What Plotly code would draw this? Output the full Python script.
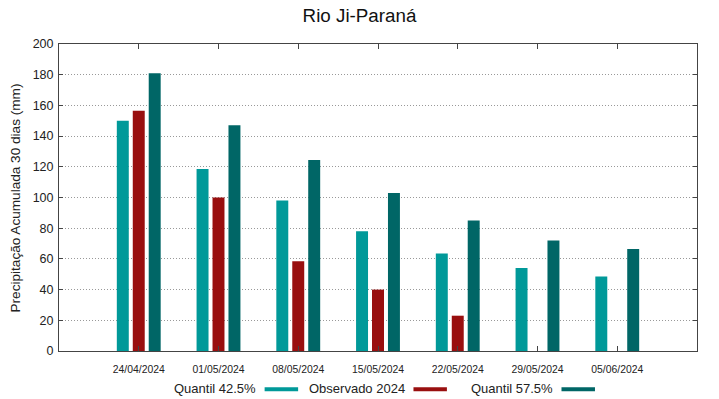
import plotly.graph_objects as go

categories = ["24/04/2024", "01/05/2024", "08/05/2024", "15/05/2024",
              "22/05/2024", "29/05/2024", "05/06/2024"]
quantil_425 = [150, 118.5, 98, 78, 63.5, 54, 48.5]
observado_2024 = [156.5, 100, 58.5, 40, 23, None, None]
quantil_575 = [181, 147, 124.5, 103, 85, 72, 66.5]
y_ticks = [0, 20, 40, 60, 80, 100, 120, 140, 160, 180, 200]

names = ["Quantil 42.5%", "Observado 2024", "Quantil 57.5%"]
colors = ["#009999", "#990f0f", "#006666"]
series = [quantil_425, observado_2024, quantil_575]

FONT = "Liberation Sans, Arial, sans-serif"
x_idx = list(range(len(categories)))

fig = go.Figure()
for n, c, s in zip(names, colors, series):
    fig.add_trace(go.Bar(x=x_idx, y=s, name=n, marker_color=c,
                         marker_line_width=0, showlegend=False))

# manual legend (text followed by swatch)
leg_sw = [(0.3223, 0.3748), (0.5556, 0.6080), (0.7876, 0.8401)]
for n, c, (a, b) in zip(names, colors, leg_sw):
    fig.add_annotation(text=n, xref="paper", yref="paper", x=a - 0.0105, y=-0.123,
                       xanchor="right", yanchor="middle", showarrow=False,
                       font=dict(family=FONT, size=13, color="#222"))
    fig.add_shape(type="rect", xref="paper", yref="paper", x0=a, x1=b,
                  y0=-0.1315, y1=-0.118, fillcolor=c, line_width=0)

fig.add_annotation(text="Precipitação Acumulada 30 dias (mm)", xref="paper", yref="paper",
                   x=-0.0674, y=0.5, textangle=-90, xanchor="center", yanchor="middle",
                   showarrow=False, font=dict(family=FONT, size=13.6, color="#222"))

fig.update_layout(
    width=719, height=399,
    margin=dict(l=59, r=22, t=44, b=48, pad=0, autoexpand=False),
    paper_bgcolor="white", plot_bgcolor="white",
    barmode="group", bargap=0.4, bargroupgap=0.25,
    title=dict(text="Rio Ji-Paraná", x=0.5, xanchor="center", y=0.962, yanchor="middle",
               font=dict(family=FONT, size=18.8, color="#111")),
    font=dict(family=FONT, color="#222"),
    xaxis=dict(range=[-1, 7], tickmode="array", tickvals=x_idx, ticktext=categories,
               ticks="inside", ticklen=5, tickcolor="#444", mirror="ticks",
               showline=True, linecolor="#444", linewidth=1, showgrid=False,
               automargin=False, ticklabelstandoff=9,
               tickfont=dict(family=FONT, size=10.4, color="#222"), zeroline=False),
    yaxis=dict(range=[0, 200], tickmode="array", tickvals=y_ticks,
               ticks="inside", ticklen=4, tickcolor="#444", mirror="ticks",
               showline=True, linecolor="#444", linewidth=1,
               showgrid=True, gridcolor="#999", griddash="1px,2px", gridwidth=1,
               automargin=False, ticklabelstandoff=2,
               tickfont=dict(family=FONT, size=12.5, color="#222"), zeroline=False),
)
fig.write_html("out.html", config={"displayModeBar": False},
               post_script="document.body.style.margin='0';document.body.style.overflow='hidden';")
